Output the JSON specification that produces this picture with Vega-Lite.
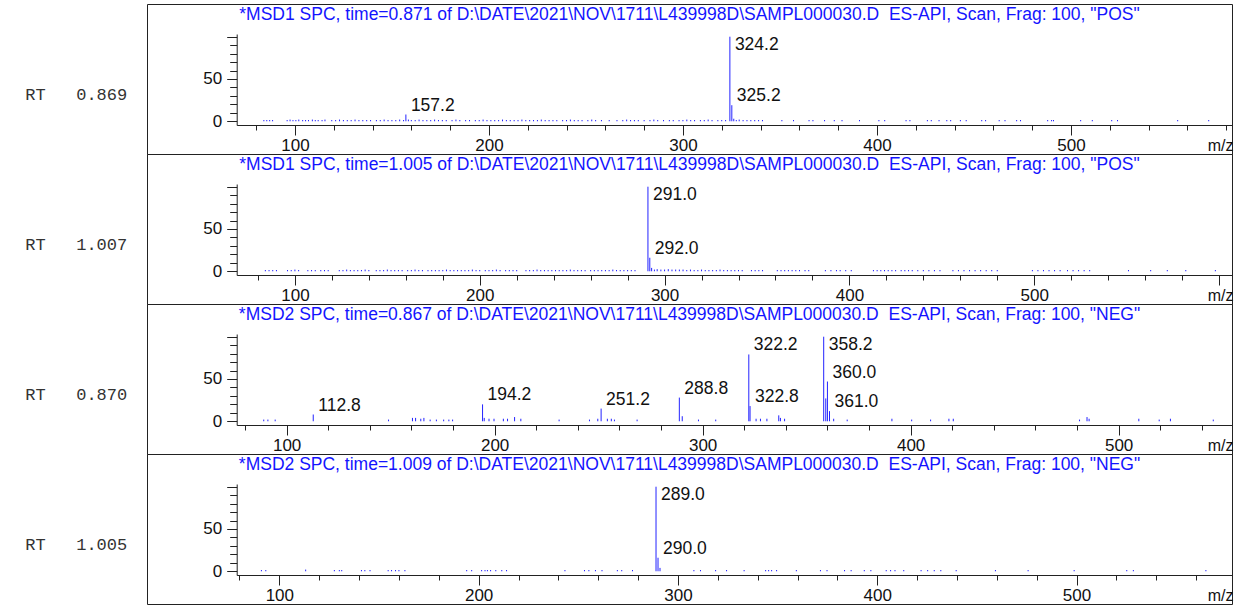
{
  "$schema": "https://vega.github.io/schema/vega-lite/v6.json",
  "padding": {"left": 24, "top": 3, "right": 0, "bottom": 0},
  "background": "white",
  "spacing": 0,
  "bounds": "flush",
  "config": {
    "view": {"stroke": "#222", "strokeWidth": 1},
    "axis": {"grid": false, "labelFont": "Liberation Sans", "labelFontSize": 17, "labelColor": "#111", "tickColor": "#222", "domainColor": "#222", "tickWidth": 1, "domainWidth": 1, "labelFlush": false, "labelOverlap": false},
    "title": {"font": "Liberation Sans", "fontSize": 17.5, "fontWeight": "normal", "color": "#1414ff", "anchor": "middle", "frame": "group", "orient": "top", "offset": -19, "baseline": "alphabetic"},
    "text": {"font": "Liberation Sans", "fontSize": 17.5, "color": "#111", "align": "left"},
    "rule": {"color": "#2323ff", "strokeWidth": 1}
  },
  "datasets": {
    "p1": [
      {"mz": 84, "i": 1.5}, {"mz": 85.5, "i": 1.5}, {"mz": 87, "i": 1.5}, {"mz": 88.5, "i": 1.5},
      {"mz": 96, "i": 1.5}, {"mz": 97.5, "i": 2}, {"mz": 99, "i": 1.5}, {"mz": 100.5, "i": 1.5}, {"mz": 102, "i": 2}, {"mz": 104, "i": 1.5}, {"mz": 105.5, "i": 1.5}, {"mz": 107, "i": 1.5}, {"mz": 109, "i": 2}, {"mz": 110.5, "i": 1.5}, {"mz": 112, "i": 1.5}, {"mz": 114, "i": 1.5}, {"mz": 115.5, "i": 2},
      {"mz": 119, "i": 1.5}, {"mz": 121, "i": 1.5}, {"mz": 123, "i": 2}, {"mz": 125, "i": 1.5}, {"mz": 127, "i": 1.5}, {"mz": 129, "i": 1.5}, {"mz": 131, "i": 2}, {"mz": 133, "i": 1.5}, {"mz": 135, "i": 1.5}, {"mz": 137, "i": 1.5}, {"mz": 139, "i": 1.5},
      {"mz": 142, "i": 1.5}, {"mz": 144, "i": 1.5}, {"mz": 146, "i": 2}, {"mz": 148, "i": 1.5}, {"mz": 150, "i": 1.5}, {"mz": 152, "i": 1.5}, {"mz": 154, "i": 2}, {"mz": 156, "i": 1.5}, {"mz": 157.2, "i": 8, "label": "157.2"}, {"mz": 158.5, "i": 2}, {"mz": 160, "i": 1.5}, {"mz": 162, "i": 1.5}, {"mz": 164, "i": 2}, {"mz": 166, "i": 1.5}, {"mz": 168, "i": 1.5}, {"mz": 170, "i": 1.5}, {"mz": 172, "i": 2}, {"mz": 174, "i": 1.5}, {"mz": 176, "i": 1.5}, {"mz": 178, "i": 1.5}, {"mz": 181, "i": 1.5}, {"mz": 183, "i": 2}, {"mz": 185, "i": 1.5}, {"mz": 188, "i": 1.5}, {"mz": 190, "i": 1.5},
      {"mz": 193, "i": 1.5}, {"mz": 195, "i": 1.5}, {"mz": 197, "i": 2}, {"mz": 199, "i": 1.5}, {"mz": 201, "i": 1.5}, {"mz": 203, "i": 1.5}, {"mz": 205, "i": 1.5}, {"mz": 207, "i": 2}, {"mz": 209, "i": 1.5}, {"mz": 211, "i": 1.5}, {"mz": 213, "i": 1.5}, {"mz": 215, "i": 1.5}, {"mz": 217, "i": 2}, {"mz": 219, "i": 1.5}, {"mz": 221, "i": 1.5}, {"mz": 223, "i": 1.5}, {"mz": 225, "i": 1.5}, {"mz": 227, "i": 2}, {"mz": 229, "i": 1.5}, {"mz": 231, "i": 1.5}, {"mz": 233, "i": 1.5}, {"mz": 235, "i": 1.5},
      {"mz": 238, "i": 1.5}, {"mz": 240, "i": 1.5}, {"mz": 242, "i": 2}, {"mz": 244, "i": 1.5}, {"mz": 246, "i": 1.5}, {"mz": 248, "i": 1.5}, {"mz": 251, "i": 1.5}, {"mz": 253, "i": 2}, {"mz": 255, "i": 1.5}, {"mz": 258, "i": 1.5}, {"mz": 262, "i": 1.5}, {"mz": 266, "i": 1.5}, {"mz": 269, "i": 1.5}, {"mz": 271, "i": 2}, {"mz": 273, "i": 1.5}, {"mz": 275, "i": 1.5}, {"mz": 277, "i": 1.5}, {"mz": 280, "i": 1.5}, {"mz": 283, "i": 1.5}, {"mz": 285, "i": 2}, {"mz": 287, "i": 1.5}, {"mz": 290, "i": 1.5}, {"mz": 293, "i": 1.5}, {"mz": 295, "i": 1.5}, {"mz": 298, "i": 1.5}, {"mz": 300, "i": 1.5}, {"mz": 302, "i": 2}, {"mz": 304, "i": 1.5}, {"mz": 306, "i": 1.5}, {"mz": 309, "i": 1.5}, {"mz": 311, "i": 1.5}, {"mz": 313, "i": 2}, {"mz": 315, "i": 1.5}, {"mz": 318, "i": 1.5}, {"mz": 320, "i": 1.5}, {"mz": 322, "i": 1.5},
      {"mz": 324.2, "i": 100, "label": "324.2"}, {"mz": 325.2, "i": 19, "label": "325.2"}, {"mz": 326.2, "i": 3}, {"mz": 327.5, "i": 1.5}, {"mz": 329, "i": 2}, {"mz": 331, "i": 1.5}, {"mz": 333, "i": 1.5}, {"mz": 335, "i": 1.5}, {"mz": 337, "i": 1.5}, {"mz": 339, "i": 1.5}, {"mz": 341, "i": 1.5},
      {"mz": 351, "i": 1.5}, {"mz": 357, "i": 1.5}, {"mz": 365, "i": 1.5}, {"mz": 367, "i": 1.5}, {"mz": 373, "i": 1.5}, {"mz": 378, "i": 1.5}, {"mz": 382, "i": 1.5}, {"mz": 391, "i": 1.5}, {"mz": 401, "i": 1.5}, {"mz": 404, "i": 1.5}, {"mz": 415, "i": 1.5}, {"mz": 417, "i": 1.5}, {"mz": 426, "i": 1.5}, {"mz": 428, "i": 1.5}, {"mz": 432, "i": 1.5}, {"mz": 436, "i": 1.5}, {"mz": 438, "i": 1.5}, {"mz": 443, "i": 1.5}, {"mz": 446, "i": 1.5}, {"mz": 454, "i": 1.5}, {"mz": 456, "i": 1.5}, {"mz": 463, "i": 1.5}, {"mz": 466, "i": 1.5}, {"mz": 472, "i": 1.5}, {"mz": 474, "i": 1.5}, {"mz": 488, "i": 1.5}, {"mz": 490, "i": 1.5}, {"mz": 491, "i": 1.5}, {"mz": 505, "i": 1.5}, {"mz": 511, "i": 1.5}, {"mz": 521, "i": 1.5}, {"mz": 524, "i": 1.5}, {"mz": 555, "i": 1.5}, {"mz": 571, "i": 1.5}
    ],
    "p2": [
      {"mz": 84, "i": 1.5}, {"mz": 86, "i": 1.5}, {"mz": 88, "i": 1.5}, {"mz": 90, "i": 1.5}, {"mz": 96, "i": 1.5}, {"mz": 98, "i": 1.5}, {"mz": 100, "i": 2}, {"mz": 102, "i": 1.5}, {"mz": 107, "i": 1.5}, {"mz": 109, "i": 1.5}, {"mz": 111, "i": 1.5}, {"mz": 114, "i": 1.5}, {"mz": 116, "i": 1.5}, {"mz": 118, "i": 1.5}, {"mz": 124, "i": 1.5}, {"mz": 126, "i": 1.5}, {"mz": 128, "i": 2}, {"mz": 130, "i": 1.5}, {"mz": 132, "i": 1.5}, {"mz": 134, "i": 1.5}, {"mz": 136, "i": 1.5}, {"mz": 138, "i": 2}, {"mz": 140, "i": 1.5}, {"mz": 144, "i": 1.5}, {"mz": 146, "i": 1.5}, {"mz": 148, "i": 1.5}, {"mz": 150, "i": 2}, {"mz": 152, "i": 1.5}, {"mz": 154, "i": 1.5}, {"mz": 156, "i": 1.5}, {"mz": 158, "i": 1.5}, {"mz": 161, "i": 1.5}, {"mz": 163, "i": 1.5}, {"mz": 165, "i": 2}, {"mz": 167, "i": 1.5}, {"mz": 169, "i": 1.5}, {"mz": 172, "i": 1.5}, {"mz": 174, "i": 1.5}, {"mz": 176, "i": 1.5}, {"mz": 178, "i": 1.5}, {"mz": 180, "i": 1.5}, {"mz": 182, "i": 2}, {"mz": 184, "i": 1.5}, {"mz": 186, "i": 1.5}, {"mz": 188, "i": 1.5}, {"mz": 190, "i": 1.5}, {"mz": 192, "i": 1.5}, {"mz": 194, "i": 1.5}, {"mz": 196, "i": 2}, {"mz": 198, "i": 1.5}, {"mz": 200, "i": 1.5}, {"mz": 203, "i": 1.5}, {"mz": 205, "i": 1.5}, {"mz": 207, "i": 1.5}, {"mz": 209, "i": 2}, {"mz": 211, "i": 1.5}, {"mz": 214, "i": 1.5}, {"mz": 216, "i": 1.5}, {"mz": 218, "i": 1.5}, {"mz": 220, "i": 1.5}, {"mz": 225, "i": 1.5}, {"mz": 227, "i": 1.5}, {"mz": 229, "i": 1.5}, {"mz": 231, "i": 2}, {"mz": 233, "i": 1.5}, {"mz": 235, "i": 1.5}, {"mz": 237, "i": 1.5}, {"mz": 239, "i": 1.5}, {"mz": 241, "i": 1.5}, {"mz": 243, "i": 1.5}, {"mz": 245, "i": 1.5}, {"mz": 247, "i": 1.5}, {"mz": 249, "i": 2}, {"mz": 251, "i": 1.5}, {"mz": 253, "i": 1.5}, {"mz": 255, "i": 1.5}, {"mz": 257, "i": 1.5}, {"mz": 260, "i": 1.5}, {"mz": 262, "i": 1.5}, {"mz": 264, "i": 1.5}, {"mz": 266, "i": 1.5}, {"mz": 268, "i": 1.5}, {"mz": 270, "i": 1.5}, {"mz": 272, "i": 2}, {"mz": 274, "i": 1.5}, {"mz": 276, "i": 1.5}, {"mz": 278, "i": 1.5}, {"mz": 280, "i": 1.5}, {"mz": 282, "i": 1.5}, {"mz": 284, "i": 1.5},
      {"mz": 291, "i": 100, "label": "291.0"}, {"mz": 292, "i": 16, "label": "292.0"}, {"mz": 293, "i": 4}, {"mz": 294.5, "i": 2}, {"mz": 296, "i": 2.5}, {"mz": 298, "i": 2}, {"mz": 300, "i": 2}, {"mz": 302, "i": 2.5}, {"mz": 304, "i": 2}, {"mz": 306, "i": 2}, {"mz": 308, "i": 2}, {"mz": 310, "i": 2}, {"mz": 312, "i": 1.5}, {"mz": 314, "i": 2}, {"mz": 316, "i": 1.5}, {"mz": 318, "i": 1.5}, {"mz": 320, "i": 2}, {"mz": 322, "i": 1.5}, {"mz": 324, "i": 1.5}, {"mz": 326, "i": 1.5}, {"mz": 328, "i": 1.5}, {"mz": 330, "i": 2}, {"mz": 332, "i": 1.5}, {"mz": 334, "i": 1.5}, {"mz": 336, "i": 1.5}, {"mz": 338, "i": 1.5}, {"mz": 340, "i": 1.5}, {"mz": 342, "i": 1.5}, {"mz": 347, "i": 1.5}, {"mz": 349, "i": 1.5}, {"mz": 351, "i": 1.5}, {"mz": 353, "i": 1.5}, {"mz": 361, "i": 1.5}, {"mz": 363, "i": 1.5}, {"mz": 365, "i": 1.5}, {"mz": 367, "i": 1.5}, {"mz": 369, "i": 1.5}, {"mz": 371, "i": 1.5}, {"mz": 373, "i": 1.5}, {"mz": 376, "i": 1.5}, {"mz": 378, "i": 1.5}, {"mz": 387, "i": 1.5}, {"mz": 390, "i": 1.5}, {"mz": 393, "i": 1.5}, {"mz": 395, "i": 1.5}, {"mz": 398, "i": 1.5}, {"mz": 401, "i": 1.5}, {"mz": 413, "i": 1.5}, {"mz": 415, "i": 1.5}, {"mz": 417, "i": 1.5}, {"mz": 419, "i": 1.5}, {"mz": 421, "i": 1.5}, {"mz": 423, "i": 1.5}, {"mz": 425, "i": 1.5}, {"mz": 428, "i": 1.5}, {"mz": 430, "i": 1.5}, {"mz": 432, "i": 1.5}, {"mz": 434, "i": 1.5}, {"mz": 437, "i": 1.5}, {"mz": 440, "i": 1.5}, {"mz": 443, "i": 1.5}, {"mz": 446, "i": 1.5}, {"mz": 449, "i": 1.5}, {"mz": 456, "i": 1.5}, {"mz": 459, "i": 1.5}, {"mz": 462, "i": 1.5}, {"mz": 465, "i": 1.5}, {"mz": 468, "i": 1.5}, {"mz": 471, "i": 1.5}, {"mz": 474, "i": 1.5}, {"mz": 477, "i": 1.5}, {"mz": 480, "i": 1.5}, {"mz": 499, "i": 1.5}, {"mz": 502, "i": 1.5}, {"mz": 505, "i": 1.5}, {"mz": 508, "i": 1.5}, {"mz": 511, "i": 1.5}, {"mz": 514, "i": 1.5}, {"mz": 518, "i": 1.5}, {"mz": 521, "i": 1.5}, {"mz": 524, "i": 1.5}, {"mz": 527, "i": 1.5}, {"mz": 530, "i": 1.5}, {"mz": 551, "i": 1.5}, {"mz": 563, "i": 1.5}, {"mz": 572, "i": 1.5}, {"mz": 582, "i": 1.5}, {"mz": 598, "i": 1.5}
    ],
    "p3": [
      {"mz": 89, "i": 2}, {"mz": 91, "i": 2}, {"mz": 94.5, "i": 2}, {"mz": 112.8, "i": 8, "label": "112.8"}, {"mz": 149, "i": 2}, {"mz": 160.5, "i": 4}, {"mz": 162, "i": 4}, {"mz": 164.5, "i": 3}, {"mz": 166, "i": 4}, {"mz": 169, "i": 2}, {"mz": 172, "i": 2}, {"mz": 175.5, "i": 2}, {"mz": 178, "i": 2}, {"mz": 179.8, "i": 2},
      {"mz": 194.2, "i": 20, "label": "194.2"}, {"mz": 195, "i": 4}, {"mz": 197.3, "i": 3}, {"mz": 199.7, "i": 3}, {"mz": 204.2, "i": 3}, {"mz": 206.2, "i": 3}, {"mz": 209.6, "i": 5}, {"mz": 212.6, "i": 3}, {"mz": 231, "i": 2}, {"mz": 245.6, "i": 2}, {"mz": 249.6, "i": 3},
      {"mz": 251.2, "i": 15, "label": "251.2"}, {"mz": 254.2, "i": 3}, {"mz": 256.1, "i": 3}, {"mz": 257.6, "i": 2}, {"mz": 268.5, "i": 2},
      {"mz": 288.8, "i": 28, "label": "288.8"}, {"mz": 290.2, "i": 6}, {"mz": 298, "i": 2}, {"mz": 306.3, "i": 2},
      {"mz": 322.2, "i": 79, "label": "322.2"}, {"mz": 322.8, "i": 18, "label": "322.8"}, {"mz": 325.7, "i": 3}, {"mz": 327.8, "i": 3}, {"mz": 330.9, "i": 3}, {"mz": 336.6, "i": 7}, {"mz": 337.4, "i": 4}, {"mz": 339.4, "i": 3},
      {"mz": 358.2, "i": 100, "label": "358.2"}, {"mz": 359.2, "i": 27}, {"mz": 360.0, "i": 47, "label": "360.0"}, {"mz": 361.0, "i": 12, "label": "361.0"}, {"mz": 363, "i": 3}, {"mz": 369.5, "i": 2}, {"mz": 391, "i": 3}, {"mz": 400.5, "i": 2}, {"mz": 409.6, "i": 2}, {"mz": 418.4, "i": 3}, {"mz": 420.5, "i": 3}, {"mz": 481.2, "i": 2}, {"mz": 484.8, "i": 5}, {"mz": 485.8, "i": 3}, {"mz": 509.7, "i": 3}, {"mz": 519.5, "i": 2}, {"mz": 524.9, "i": 3}, {"mz": 545.5, "i": 2}
    ],
    "p4": [
      {"mz": 91, "i": 1.5}, {"mz": 93.2, "i": 1.5}, {"mz": 113.2, "i": 2}, {"mz": 127.6, "i": 1.5}, {"mz": 130.1, "i": 1.5}, {"mz": 131.3, "i": 1.5}, {"mz": 141.2, "i": 1.5}, {"mz": 142.9, "i": 1.5}, {"mz": 145.5, "i": 1.5}, {"mz": 154.6, "i": 1.5}, {"mz": 156.3, "i": 1.5}, {"mz": 158.3, "i": 1.5}, {"mz": 160, "i": 1.5}, {"mz": 163, "i": 1.5}, {"mz": 194, "i": 1.5}, {"mz": 196.5, "i": 1.5}, {"mz": 201.5, "i": 1.5}, {"mz": 203.2, "i": 1.5}, {"mz": 204.4, "i": 1.5}, {"mz": 206, "i": 1.5}, {"mz": 208.6, "i": 1.5}, {"mz": 211.6, "i": 1.5}, {"mz": 214, "i": 1.5}, {"mz": 243.3, "i": 1.5}, {"mz": 253.1, "i": 1.5}, {"mz": 255.3, "i": 1.5}, {"mz": 258.6, "i": 1.5}, {"mz": 261.9, "i": 1.5}, {"mz": 269.6, "i": 1.5}, {"mz": 271.8, "i": 1.5}, {"mz": 277.2, "i": 1.5},
      {"mz": 289.0, "i": 100, "label": "289.0"}, {"mz": 290.0, "i": 16, "label": "290.0"}, {"mz": 291.0, "i": 4},
      {"mz": 308, "i": 1.5}, {"mz": 311.3, "i": 1.5}, {"mz": 318.9, "i": 1.5}, {"mz": 324.4, "i": 1.5}, {"mz": 333.2, "i": 1.5}, {"mz": 344, "i": 1.5}, {"mz": 345.5, "i": 1.5}, {"mz": 347, "i": 1.5}, {"mz": 349.5, "i": 1.5}, {"mz": 359.4, "i": 1.5}, {"mz": 371.5, "i": 1.5}, {"mz": 374.8, "i": 1.5}, {"mz": 383.6, "i": 1.5}, {"mz": 386.9, "i": 1.5}, {"mz": 393.5, "i": 1.5}, {"mz": 396.8, "i": 1.5}, {"mz": 404.5, "i": 1.5}, {"mz": 406.7, "i": 1.5}, {"mz": 408.9, "i": 1.5}, {"mz": 413.3, "i": 1.5}, {"mz": 422, "i": 1.5}, {"mz": 425.3, "i": 1.5}, {"mz": 428.6, "i": 1.5}, {"mz": 431.9, "i": 1.5}, {"mz": 439.6, "i": 1.5}, {"mz": 459.3, "i": 1.5}, {"mz": 475.7, "i": 1.5}, {"mz": 498.8, "i": 1.5}, {"mz": 525.2, "i": 1.5}, {"mz": 528.5, "i": 1.5}, {"mz": 564.9, "i": 1.5}
    ]
  },
  "vconcat": [
    {
      "width": 1085, "height": 150,
      "title": {"text": "*MSD1 SPC, time=0.871 of D:\\DATE\\2021\\NOV\\1711\\L439998D\\SAMPL000030.D \u00a0ES-API, Scan, Frag: 100, \"POS\""},
      "data": {"name": "p1"},
      "encoding": {
        "x": {"field": "mz", "type": "quantitative",
          "scale": {"domain": [70, 583], "range": [89.7, 1085], "nice": false, "zero": false},
          "axis": {"title": "m/z", "offset": -29, "values": [80,100,120,140,160,180,200,220,240,260,280,300,320,340,360,380,400,420,440,460,480,500,520,540,560,580],
            "labelExpr": "datum.value % 100 == 0 ? datum.label : ''",
            "tickSize": {"condition": {"test": "datum.value % 100 == 0", "value": 10}, "value": 5},
            "labelPadding": 2, "titleAnchor": "end", "titleAlign": "right", "titleX": 1086, "titleY": 25, "titleBaseline": "alphabetic", "titleFont": "Liberation Sans", "titleFontSize": 16, "titleFontWeight": "normal", "titleColor": "#111"}},
        "y": {"field": "i", "type": "quantitative",
          "scale": {"domain": [-4.4, 103.2], "range": [121, 30], "nice": false, "zero": false},
          "axis": {"title": "RT \u00a0\u00a00.869", "offset": -89.7, "values": [0,10,20,30,40,50,60,70,80,90,100],
            "labelExpr": "datum.value == 0 || datum.value == 50 ? datum.label : ''",
            "tickSize": {"condition": {"test": "datum.value % 50 == 0", "value": 10}, "value": 7},
            "labelPadding": 5, "titleAngle": 0, "titleAlign": "left", "titleBaseline": "alphabetic", "titleX": -212, "titleY": 95, "titleFont": "Liberation Mono", "titleFontSize": 17, "titleFontWeight": "normal", "titleColor": "#333"}}
      },
      "layer": [
        {"mark": {"type": "rule"}, "encoding": {"y2": {"datum": 0}}},
        {"transform": [{"filter": "isValid(datum.label) && datum.i >= 90"}], "mark": {"type": "text", "baseline": "top", "dx": 5, "dy": -1}, "encoding": {"text": {"field": "label"}}},
        {"transform": [{"filter": "isValid(datum.label) && datum.i < 90"}], "mark": {"type": "text", "baseline": "bottom", "dx": 5, "dy": 0}, "encoding": {"text": {"field": "label"}}}
      ]
    },
    {
      "width": 1085, "height": 150,
      "title": {"text": "*MSD1 SPC, time=1.005 of D:\\DATE\\2021\\NOV\\1711\\L439998D\\SAMPL000030.D \u00a0ES-API, Scan, Frag: 100, \"POS\""},
      "data": {"name": "p2"},
      "encoding": {
        "x": {"field": "mz", "type": "quantitative",
          "scale": {"domain": [68.5, 607], "range": [89.7, 1085], "nice": false, "zero": false},
          "axis": {"title": "m/z", "offset": -29, "values": [80,100,120,140,160,180,200,220,240,260,280,300,320,340,360,380,400,420,440,460,480,500,520,540,560,580,600],
            "labelExpr": "datum.value % 100 == 0 && datum.value < 600 ? datum.label : ''",
            "tickSize": {"condition": {"test": "datum.value % 100 == 0", "value": 10}, "value": 5},
            "labelPadding": 2, "titleAnchor": "end", "titleAlign": "right", "titleX": 1086, "titleY": 25, "titleBaseline": "alphabetic", "titleFont": "Liberation Sans", "titleFontSize": 16, "titleFontWeight": "normal", "titleColor": "#111"}},
        "y": {"field": "i", "type": "quantitative",
          "scale": {"domain": [-4.4, 103.2], "range": [121, 30], "nice": false, "zero": false},
          "axis": {"title": "RT \u00a0\u00a01.007", "offset": -89.7, "values": [0,10,20,30,40,50,60,70,80,90,100],
            "labelExpr": "datum.value == 0 || datum.value == 50 ? datum.label : ''",
            "tickSize": {"condition": {"test": "datum.value % 50 == 0", "value": 10}, "value": 7},
            "labelPadding": 5, "titleAngle": 0, "titleAlign": "left", "titleBaseline": "alphabetic", "titleX": -212, "titleY": 95, "titleFont": "Liberation Mono", "titleFontSize": 17, "titleFontWeight": "normal", "titleColor": "#333"}}
      },
      "layer": [
        {"mark": {"type": "rule"}, "encoding": {"y2": {"datum": 0}}},
        {"transform": [{"filter": "isValid(datum.label) && datum.i >= 90"}], "mark": {"type": "text", "baseline": "top", "dx": 5, "dy": -1}, "encoding": {"text": {"field": "label"}}},
        {"transform": [{"filter": "isValid(datum.label) && datum.i < 90"}], "mark": {"type": "text", "baseline": "bottom", "dx": 5, "dy": 0}, "encoding": {"text": {"field": "label"}}}
      ]
    },
    {
      "width": 1085, "height": 150,
      "title": {"text": "*MSD2 SPC, time=0.867 of D:\\DATE\\2021\\NOV\\1711\\L439998D\\SAMPL000030.D \u00a0ES-API, Scan, Frag: 100, \"NEG\""},
      "data": {"name": "p3"},
      "encoding": {
        "x": {"field": "mz", "type": "quantitative",
          "scale": {"domain": [76, 554.5], "range": [89.7, 1085], "nice": false, "zero": false},
          "axis": {"title": "m/z", "offset": -29, "values": [80,100,120,140,160,180,200,220,240,260,280,300,320,340,360,380,400,420,440,460,480,500,520,540],
            "labelExpr": "datum.value % 100 == 0 ? datum.label : ''",
            "tickSize": {"condition": {"test": "datum.value % 100 == 0", "value": 10}, "value": 5},
            "labelPadding": 2, "titleAnchor": "end", "titleAlign": "right", "titleX": 1086, "titleY": 25, "titleBaseline": "alphabetic", "titleFont": "Liberation Sans", "titleFontSize": 16, "titleFontWeight": "normal", "titleColor": "#111"}},
        "y": {"field": "i", "type": "quantitative",
          "scale": {"domain": [-4.4, 103.2], "range": [121, 30], "nice": false, "zero": false},
          "axis": {"title": "RT \u00a0\u00a00.870", "offset": -89.7, "values": [0,10,20,30,40,50,60,70,80,90,100],
            "labelExpr": "datum.value == 0 || datum.value == 50 ? datum.label : ''",
            "tickSize": {"condition": {"test": "datum.value % 50 == 0", "value": 10}, "value": 7},
            "labelPadding": 5, "titleAngle": 0, "titleAlign": "left", "titleBaseline": "alphabetic", "titleX": -212, "titleY": 95, "titleFont": "Liberation Mono", "titleFontSize": 17, "titleFontWeight": "normal", "titleColor": "#333"}}
      },
      "layer": [
        {"mark": {"type": "rule"}, "encoding": {"y2": {"datum": 0}}},
        {"transform": [{"filter": "isValid(datum.label) && datum.i >= 90"}], "mark": {"type": "text", "baseline": "top", "dx": 5, "dy": -1}, "encoding": {"text": {"field": "label"}}},
        {"transform": [{"filter": "isValid(datum.label) && datum.i < 90"}], "mark": {"type": "text", "baseline": "bottom", "dx": 5, "dy": 0}, "encoding": {"text": {"field": "label"}}}
      ]
    },
    {
      "width": 1085, "height": 150,
      "title": {"text": "*MSD2 SPC, time=1.009 of D:\\DATE\\2021\\NOV\\1711\\L439998D\\SAMPL000030.D \u00a0ES-API, Scan, Frag: 100, \"NEG\""},
      "data": {"name": "p4"},
      "encoding": {
        "x": {"field": "mz", "type": "quantitative",
          "scale": {"domain": [78.6, 578], "range": [89.7, 1085], "nice": false, "zero": false},
          "axis": {"title": "m/z", "offset": -29, "values": [80,100,120,140,160,180,200,220,240,260,280,300,320,340,360,380,400,420,440,460,480,500,520,540,560],
            "labelExpr": "datum.value % 100 == 0 ? datum.label : ''",
            "tickSize": {"condition": {"test": "datum.value % 100 == 0", "value": 10}, "value": 5},
            "labelPadding": 2, "titleAnchor": "end", "titleAlign": "right", "titleX": 1086, "titleY": 25, "titleBaseline": "alphabetic", "titleFont": "Liberation Sans", "titleFontSize": 16, "titleFontWeight": "normal", "titleColor": "#111"}},
        "y": {"field": "i", "type": "quantitative",
          "scale": {"domain": [-4.4, 103.2], "range": [121, 30], "nice": false, "zero": false},
          "axis": {"title": "RT \u00a0\u00a01.005", "offset": -89.7, "values": [0,10,20,30,40,50,60,70,80,90,100],
            "labelExpr": "datum.value == 0 || datum.value == 50 ? datum.label : ''",
            "tickSize": {"condition": {"test": "datum.value % 50 == 0", "value": 10}, "value": 7},
            "labelPadding": 5, "titleAngle": 0, "titleAlign": "left", "titleBaseline": "alphabetic", "titleX": -212, "titleY": 95, "titleFont": "Liberation Mono", "titleFontSize": 17, "titleFontWeight": "normal", "titleColor": "#333"}}
      },
      "layer": [
        {"mark": {"type": "rule"}, "encoding": {"y2": {"datum": 0}}},
        {"transform": [{"filter": "isValid(datum.label) && datum.i >= 90"}], "mark": {"type": "text", "baseline": "top", "dx": 5, "dy": -1}, "encoding": {"text": {"field": "label"}}},
        {"transform": [{"filter": "isValid(datum.label) && datum.i < 90"}], "mark": {"type": "text", "baseline": "bottom", "dx": 5, "dy": 0}, "encoding": {"text": {"field": "label"}}}
      ]
    }
  ]
}
